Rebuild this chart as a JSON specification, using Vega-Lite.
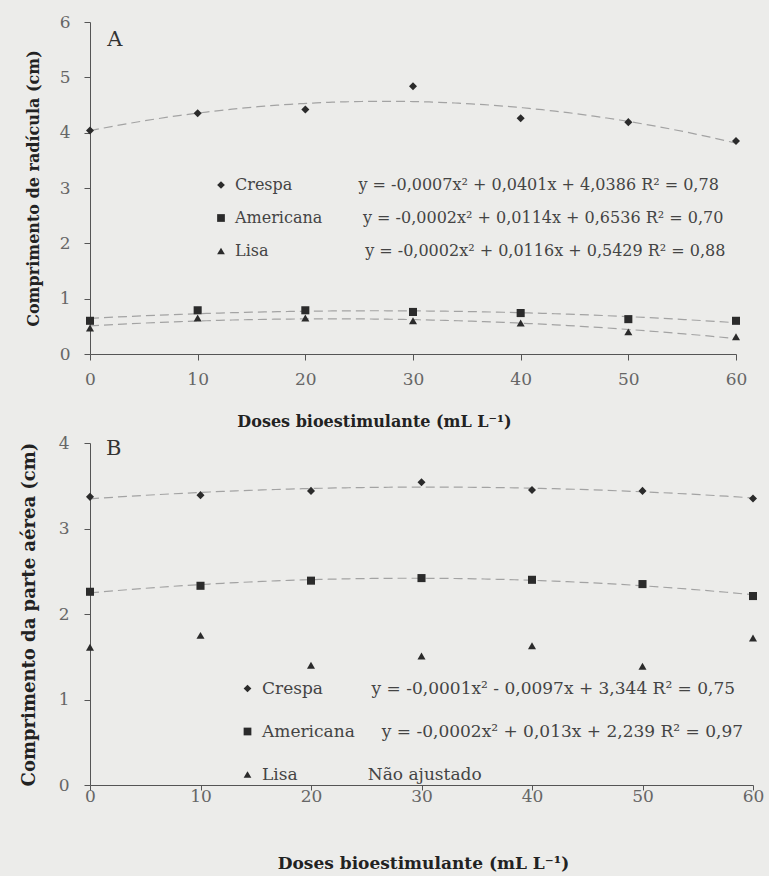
{
  "$schema": "https://vega.github.io/schema/vega-lite/v6.json",
  "background": "#ececea",
  "padding": {"left": 20, "top": 13, "right": 5, "bottom": 5},
  "config": {
    "font": "DejaVu Serif",
    "view": {"stroke": null},
    "axis": {
      "grid": false,
      "domainColor": "#555555",
      "tickColor": "#555555",
      "labelColor": "#666666",
      "labelFontSize": 17,
      "labelFont": "DejaVu Serif",
      "titleFont": "DejaVu Serif",
      "titleColor": "#222222",
      "titleFontWeight": "bold",
      "labelFlush": false,
      "format": "d",
      "tickSize": 6
    },
    "legend": {
      "labelFont": "DejaVu Serif",
      "labelColor": "#444444",
      "labelLimit": 800,
      "padding": 0,
      "symbolFillColor": "#2b2b2b",
      "symbolStrokeWidth": 0,
      "symbolSize": 60
    }
  },
  "datasets": {
    "obs": [
      {"panel": "A", "series": "Crespa", "dose": 0, "value": 4.04},
      {"panel": "A", "series": "Crespa", "dose": 10, "value": 4.35},
      {"panel": "A", "series": "Crespa", "dose": 20, "value": 4.42},
      {"panel": "A", "series": "Crespa", "dose": 30, "value": 4.84},
      {"panel": "A", "series": "Crespa", "dose": 40, "value": 4.26},
      {"panel": "A", "series": "Crespa", "dose": 50, "value": 4.19},
      {"panel": "A", "series": "Crespa", "dose": 60, "value": 3.85},
      {"panel": "A", "series": "Americana", "dose": 0, "value": 0.6},
      {"panel": "A", "series": "Americana", "dose": 10, "value": 0.79},
      {"panel": "A", "series": "Americana", "dose": 20, "value": 0.79},
      {"panel": "A", "series": "Americana", "dose": 30, "value": 0.76},
      {"panel": "A", "series": "Americana", "dose": 40, "value": 0.74},
      {"panel": "A", "series": "Americana", "dose": 50, "value": 0.63},
      {"panel": "A", "series": "Americana", "dose": 60, "value": 0.6},
      {"panel": "A", "series": "Lisa", "dose": 0, "value": 0.47},
      {"panel": "A", "series": "Lisa", "dose": 10, "value": 0.65},
      {"panel": "A", "series": "Lisa", "dose": 20, "value": 0.65},
      {"panel": "A", "series": "Lisa", "dose": 30, "value": 0.6},
      {"panel": "A", "series": "Lisa", "dose": 40, "value": 0.56},
      {"panel": "A", "series": "Lisa", "dose": 50, "value": 0.4},
      {"panel": "A", "series": "Lisa", "dose": 60, "value": 0.31},
      {"panel": "B", "series": "Crespa", "dose": 0, "value": 3.37},
      {"panel": "B", "series": "Crespa", "dose": 10, "value": 3.39},
      {"panel": "B", "series": "Crespa", "dose": 20, "value": 3.44},
      {"panel": "B", "series": "Crespa", "dose": 30, "value": 3.54},
      {"panel": "B", "series": "Crespa", "dose": 40, "value": 3.45},
      {"panel": "B", "series": "Crespa", "dose": 50, "value": 3.44},
      {"panel": "B", "series": "Crespa", "dose": 60, "value": 3.35},
      {"panel": "B", "series": "Americana", "dose": 0, "value": 2.26},
      {"panel": "B", "series": "Americana", "dose": 10, "value": 2.33},
      {"panel": "B", "series": "Americana", "dose": 20, "value": 2.39},
      {"panel": "B", "series": "Americana", "dose": 30, "value": 2.42},
      {"panel": "B", "series": "Americana", "dose": 40, "value": 2.4},
      {"panel": "B", "series": "Americana", "dose": 50, "value": 2.35},
      {"panel": "B", "series": "Americana", "dose": 60, "value": 2.21},
      {"panel": "B", "series": "Lisa", "dose": 0, "value": 1.61},
      {"panel": "B", "series": "Lisa", "dose": 10, "value": 1.75},
      {"panel": "B", "series": "Lisa", "dose": 20, "value": 1.4},
      {"panel": "B", "series": "Lisa", "dose": 30, "value": 1.51},
      {"panel": "B", "series": "Lisa", "dose": 40, "value": 1.63},
      {"panel": "B", "series": "Lisa", "dose": 50, "value": 1.39},
      {"panel": "B", "series": "Lisa", "dose": 60, "value": 1.72}
    ]
  },
  "spacing": 5,
  "resolve": {
    "scale": {"shape": "independent"},
    "legend": {"shape": "independent"}
  },
  "vconcat": [
    {
      "width": 646,
      "height": 332,
      "layer": [
        {
          "data": {"name": "obs"},
          "transform": [
            {"filter": "datum.panel == 'A'"},
            {"regression": "value", "on": "dose", "groupby": ["series"], "method": "poly", "order": 2, "extent": [0, 60]}
          ],
          "mark": {"type": "line", "color": "#a3a3a3", "strokeWidth": 1.2, "strokeDash": [9, 5]},
          "encoding": {
            "x": {"field": "dose", "type": "quantitative"},
            "y": {"field": "value", "type": "quantitative"},
            "detail": {"field": "series", "type": "nominal"}
          }
        },
        {
          "data": {"name": "obs"},
          "transform": [{"filter": "datum.panel == 'A'"}],
          "mark": {"type": "point", "filled": true, "opacity": 1, "color": "#2b2b2b", "size": 65},
          "encoding": {
            "x": {
              "field": "dose", "type": "quantitative",
              "scale": {"domain": [0, 60], "nice": false},
              "axis": {"values": [0, 10, 20, 30, 40, 50, 60], "title": "Doses bioestimulante (mL L⁻¹)", "titleFontSize": 16, "labelPadding": 11, "titlePadding": 26, "titleX": 284, "titleAlign": "center"}
            },
            "y": {
              "field": "value", "type": "quantitative",
              "scale": {"domain": [0, 6], "nice": false},
              "axis": {"values": [0, 1, 2, 3, 4, 5, 6], "title": "Comprimento de radícula (cm)", "titleFontSize": 16, "labelPadding": 14, "titlePadding": 18}
            },
            "shape": {
              "field": "series", "type": "nominal",
              "scale": {"domain": ["Crespa", "Americana", "Lisa"], "range": ["diamond", "square", "triangle-up"]},
              "legend": {
                "title": null, "orient": "none", "legendX": 123, "legendY": 155,
                "labelFontSize": 16, "rowPadding": 17, "labelOffset": 6,
                "labelExpr": "datum.label == 'Crespa' ? 'Crespa\u00a0\u00a0\u00a0\u00a0\u00a0\u00a0\u00a0\u00a0\u00a0\u00a0\u00a0\u00a0\u00a0y = -0,0007x² + 0,0401x + 4,0386 R² = 0,78' : datum.label == 'Americana' ? 'Americana\u00a0\u00a0\u00a0\u00a0\u00a0\u00a0\u00a0\u00a0y = -0,0002x² + 0,0114x + 0,6536 R² = 0,70' : 'Lisa\u00a0\u00a0\u00a0\u00a0\u00a0\u00a0\u00a0\u00a0\u00a0\u00a0\u00a0\u00a0\u00a0\u00a0\u00a0\u00a0\u00a0\u00a0\u00a0y = -0,0002x² + 0,0116x + 0,5429 R² = 0,88'"
              }
            }
          }
        },
        {
          "data": {"values": [{"t": "A"}]},
          "mark": {"type": "text", "fontSize": 21, "align": "left", "baseline": "middle", "color": "#333333"},
          "encoding": {
            "text": {"field": "t"},
            "x": {"datum": 1.6},
            "y": {"datum": 5.67}
          }
        }
      ]
    },
    {
      "width": 663,
      "height": 342,
      "layer": [
        {
          "data": {"name": "obs"},
          "transform": [
            {"filter": "datum.panel == 'B' && datum.series != 'Lisa'"},
            {"regression": "value", "on": "dose", "groupby": ["series"], "method": "poly", "order": 2, "extent": [0, 60]}
          ],
          "mark": {"type": "line", "color": "#a3a3a3", "strokeWidth": 1.2, "strokeDash": [9, 5]},
          "encoding": {
            "x": {"field": "dose", "type": "quantitative"},
            "y": {"field": "value", "type": "quantitative"},
            "detail": {"field": "series", "type": "nominal"}
          }
        },
        {
          "data": {"name": "obs"},
          "transform": [{"filter": "datum.panel == 'B'"}],
          "mark": {"type": "point", "filled": true, "opacity": 1, "color": "#2b2b2b", "size": 65},
          "encoding": {
            "x": {
              "field": "dose", "type": "quantitative",
              "scale": {"domain": [0, 60], "nice": false},
              "axis": {"values": [0, 10, 20, 30, 40, 50, 60], "title": "Doses bioestimulante (mL L⁻¹)", "titleFontSize": 17, "tickSize": 5, "labelPadding": -2, "titlePadding": 51, "titleX": 333, "titleAlign": "center"}
            },
            "y": {
              "field": "value", "type": "quantitative",
              "scale": {"domain": [0, 4], "nice": false},
              "axis": {"values": [0, 1, 2, 3, 4], "title": "Comprimento da parte aérea (cm)", "titleFontSize": 18, "labelPadding": 15, "titlePadding": 20}
            },
            "shape": {
              "field": "series", "type": "nominal",
              "scale": {"domain": ["Crespa", "Americana", "Lisa"], "range": ["diamond", "square", "triangle-up"]},
              "legend": {
                "title": null, "orient": "none", "legendX": 149, "legendY": 237,
                "labelFontSize": 17, "rowPadding": 25, "labelOffset": 6,
                "labelExpr": "datum.label == 'Crespa' ? 'Crespa\u00a0\u00a0\u00a0\u00a0\u00a0\u00a0\u00a0\u00a0\u00a0y = -0,0001x² - 0,0097x + 3,344 R² = 0,75' : datum.label == 'Americana' ? 'Americana\u00a0\u00a0\u00a0\u00a0\u00a0y = -0,0002x² + 0,013x + 2,239 R² = 0,97' : 'Lisa\u00a0\u00a0\u00a0\u00a0\u00a0\u00a0\u00a0\u00a0\u00a0\u00a0\u00a0\u00a0\u00a0Não ajustado'"
              }
            }
          }
        },
        {
          "data": {"values": [{"t": "B"}]},
          "mark": {"type": "text", "fontSize": 21, "align": "left", "baseline": "middle", "color": "#333333"},
          "encoding": {
            "text": {"field": "t"},
            "x": {"datum": 1.45},
            "y": {"datum": 3.93}
          }
        }
      ]
    }
  ]
}
